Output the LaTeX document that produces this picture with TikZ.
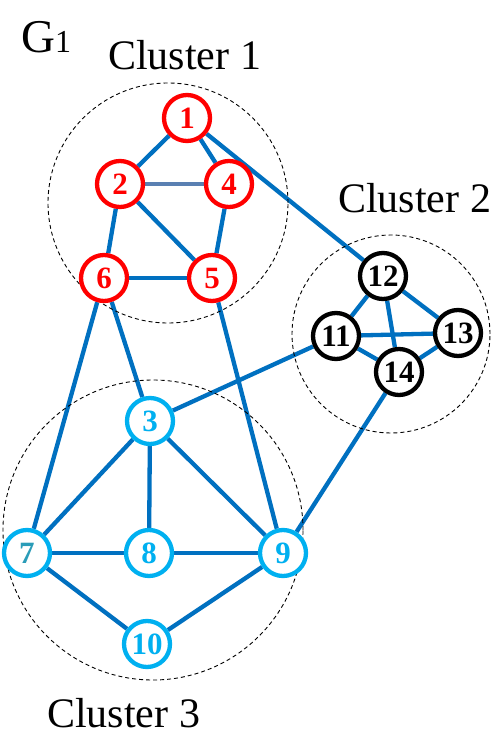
\documentclass[tikz,border=0pt]{standalone}
\usepackage{fontspec}
\setmainfont{Liberation Serif}
\usetikzlibrary{backgrounds}
\definecolor{edgeblue}{HTML}{0070C0}
\definecolor{greyblue}{HTML}{5A80B2}
\definecolor{nred}{HTML}{FF0000}
\definecolor{ncyan}{HTML}{00B0F0}
\definecolor{nteal}{HTML}{2A9CB8}
\tikzset{
  vtx/.style={circle, draw, fill=white, line width=4.3pt, minimum size=46pt, inner sep=0pt,
    font=\fontsize{31}{31}\selectfont\bfseries},
  rednode/.style={vtx, draw=nred, text=nred},
  blknode/.style={vtx, draw=black, text=black},
  cyannode/.style={vtx, draw=ncyan, text=ncyan},
  edge/.style={draw=edgeblue, line width=4.3pt},
  cluster/.style={circle, draw=black, line width=0.9pt, dash pattern=on 4pt off 3pt, inner sep=0pt},
  lbl/.style={anchor=base west, inner sep=0pt, font=\fontsize{42}{42}\selectfont}
}
\begin{document}
\begin{tikzpicture}[x=1pt,y=-1pt]
\useasboundingbox (0,0) rectangle (494,741);
% clusters
\node[cluster, minimum size=240pt] (c1) at (168,203) {};
\node[cluster, minimum size=198pt] (c2) at (391,334) {};
\node[cluster, minimum size=300pt] (c3) at (153,530) {};
% labels
\node[anchor=base west, inner sep=0pt] (g1) at (21,53) {\fontsize{47}{47}\selectfont G\fontsize{32}{32}\selectfont 1};
\node[lbl] (l1) at (108,70) {Cluster 1};
\node[lbl] (l2) at (338,212) {Cluster 2};
\node[lbl] (l3) at (47,727) {Cluster 3};
% nodes
\node[rednode] (n1) at (187,118) {1};
\node[rednode] (n2) at (120,184) {2};
\node[rednode] (n4) at (229,184) {4};
\node[rednode] (n6) at (104,278) {6};
\node[rednode] (n5) at (212,278) {5};
\node[blknode] (n12) at (383,276) {12};
\node[blknode] (n11) at (336,336) {11};
\node[blknode] (n13) at (458,333) {13};
\node[blknode] (n14) at (399,372) {14};
\node[cyannode] (n3) at (150,421) {3};
\node[cyannode, text=nteal] (n7) at (27,553) {7};
\node[cyannode] (n8) at (149,553) {8};
\node[cyannode] (n9) at (283,553) {9};
\node[cyannode] (n10) at (147,644) {10};
% edges
\begin{scope}[on background layer]
\draw[edge] (n1) -- (n2);
\draw[edge] (n1) -- (n4);
\draw[edge] (n1) -- (n12);
\draw[edge, draw=greyblue, line width=4.8pt] (n2) -- (n4);
\draw[edge] (n2) -- (n6);
\draw[edge] (n2) -- (n5);
\draw[edge] (n4) -- (n5);
\draw[edge] (n6) -- (n5);
\draw[edge] (n6) -- (n7);
\draw[edge] (n6) -- (n3);
\draw[edge] (n5) -- (n9);
\draw[edge] (n12) -- (n11);
\draw[edge] (n12) -- (n13);
\draw[edge] (n12) -- (n14);
\draw[edge] (n11) -- (n13);
\draw[edge] (n11) -- (n14);
\draw[edge] (n13) -- (n14);
\draw[edge] (n11) -- (n3);
\draw[edge] (n14) -- (n9);
\draw[edge] (n3) -- (n7);
\draw[edge] (n3) -- (n8);
\draw[edge] (n3) -- (n9);
\draw[edge] (n7) -- (n8);
\draw[edge] (n8) -- (n9);
\draw[edge] (n7) -- (n10);
\draw[edge] (n9) -- (n10);
\end{scope}
\end{tikzpicture}
\end{document}
